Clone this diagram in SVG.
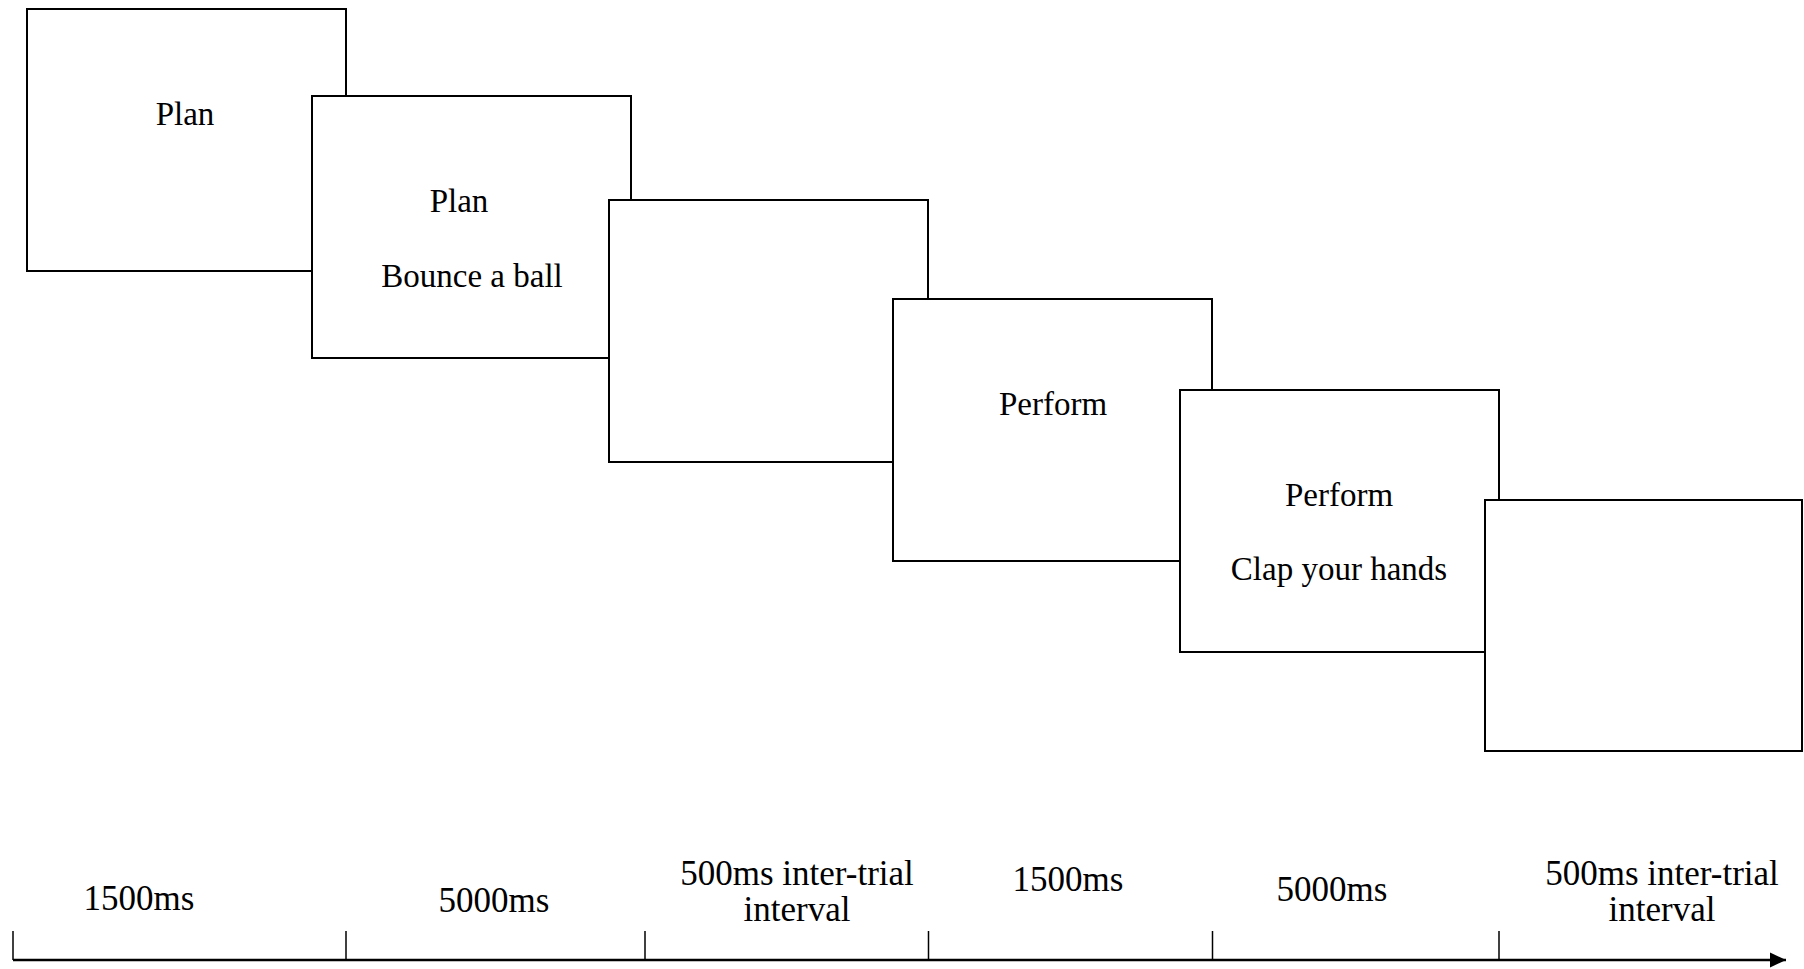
<svg xmlns="http://www.w3.org/2000/svg" width="1804" height="969" viewBox="0 0 1804 969">
<style>
.box{fill:#fff;stroke:#000;stroke-width:2}
.t{font-family:"Liberation Serif","DejaVu Serif",serif;font-size:33px;fill:#000;text-anchor:middle}
.b{font-size:35px}
.tick{stroke:#000;stroke-width:1.5}
.axis{stroke:#000;stroke-width:2.4}
</style>
<defs>
<marker id="arr" markerWidth="16" markerHeight="16" refX="16" refY="8" orient="auto" markerUnits="userSpaceOnUse" viewBox="0 0 16 16">
<path d="M0,0.5 L16,8 L0,15.5 Z" fill="#000"/>
</marker>
</defs>
<rect width="1804" height="969" fill="#fff"/>
<g id="box1"><rect class="box" x="27" y="9" width="319" height="262"/><text class="t" x="185" y="125">Plan</text></g>
<g id="box2"><rect class="box" x="312" y="96" width="319" height="262"/><text class="t" x="459" y="212">Plan</text><text class="t" x="472" y="287">Bounce a ball</text></g>
<g id="box3"><rect class="box" x="609" y="200" width="319" height="262"/></g>
<g id="box4"><rect class="box" x="893" y="299" width="319" height="262"/><text class="t" x="1053" y="415">Perform</text></g>
<g id="box5"><rect class="box" x="1180" y="390" width="319" height="262"/><text class="t" x="1339" y="506">Perform</text><text class="t" x="1339" y="580">Clap your hands</text></g>
<g id="box6"><rect class="box" x="1485" y="500" width="317" height="251"/></g>
<g id="connectors">
<line class="axis" x1="13" y1="960" x2="1786" y2="960" marker-end="url(#arr)"/>
<line class="tick" x1="13" y1="931" x2="13" y2="960"/>
<line class="tick" x1="346" y1="931" x2="346" y2="960"/>
<line class="tick" x1="645" y1="931" x2="645" y2="960"/>
<line class="tick" x1="928.5" y1="931" x2="928.5" y2="960"/>
<line class="tick" x1="1212.5" y1="931" x2="1212.5" y2="960"/>
<line class="tick" x1="1499" y1="931" x2="1499" y2="960"/>
</g>
<g id="labels">
<text class="t b" x="139" y="910">1500ms</text>
<text class="t b" x="494" y="912">5000ms</text>
<text class="t b" x="797" y="885">500ms inter-trial</text>
<text class="t b" x="797" y="921">interval</text>
<text class="t b" x="1068" y="891">1500ms</text>
<text class="t b" x="1332" y="901">5000ms</text>
<text class="t b" x="1662" y="885">500ms inter-trial</text>
<text class="t b" x="1662" y="921">interval</text>
</g>
</svg>
